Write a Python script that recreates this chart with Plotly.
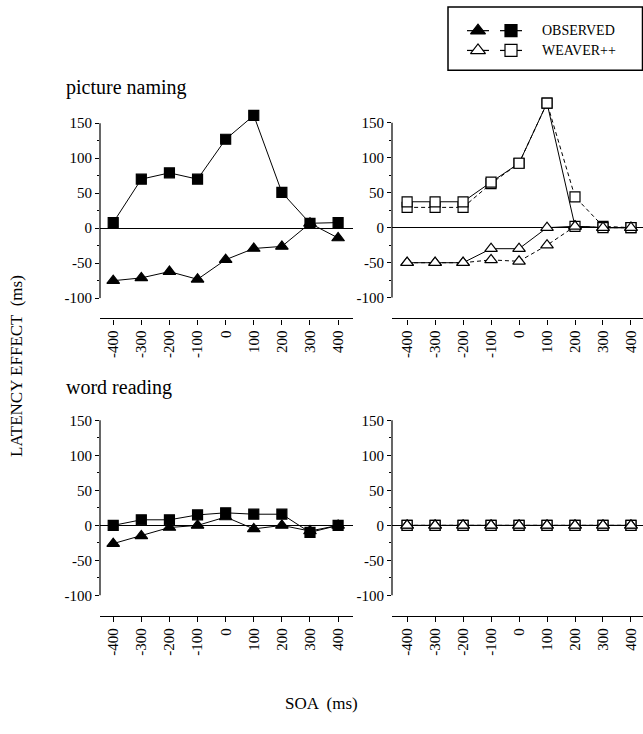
import plotly.graph_objects as go

W, H = 643, 734

soa = [-400, -300, -200, -100, 0, 100, 200, 300, 400]
soa_labels = ["-400", "-300", "-200", "-100", "0", "100", "200", "300", "400"]

# picture naming – observed
pn_obs_sq = [8, 70, 79, 70, 127, 161, 51, 7, 8]
pn_obs_tri = [-75, -71, -62, -73, -45, -29, -26, 7, -14]
# picture naming – WEAVER++ (two simulation curves: solid and dashed)
pn_sim_sq_solid = [37, 37, 37, 65, 92, 178, 2, 0, 0]
pn_sim_sq_dash = [29, 29, 29, 63, 92, 178, 44, 2, 0]
pn_sim_tri_solid = [-50, -50, -50, -30, -30, 0, 2, 0, 0]
pn_sim_tri_dash = [-50, -50, -50, -46, -48, -25, 2, 0, 0]

# word reading – observed
wr_obs_sq = [0, 8, 8, 15, 18, 16, 16, -10, 0]
wr_obs_tri = [-26, -15, -3, 0, 12, -5, 0, -8, 0]
# word reading – WEAVER++
wr_sim_sq_solid = [0, 0, 0, 0, 0, 0, 0, 0, 0]
wr_sim_sq_dash = [0, 0, 0, 0, 0, 0, 0, 0, 0]
wr_sim_tri_solid = [0, 0, 0, 0, 0, 0, 0, 0, 0]
wr_sim_tri_dash = [0, 0, 0, 0, 0, 0, 0, 0, 0]

y_ticks = [-100, -50, 0, 50, 100, 150]
y_tick_labels = ["-100", "-50", "0", "50", "100", "150"]
y_minor = [-75, -25, 25, 75, 125]

FONT = "Liberation Serif"

def px(x):
    return x / W

def py(y):
    return 1 - y / H

fig = go.Figure()

def add(xa, ya, yvals, symbol, filled, dash):
    fig.add_trace(go.Scatter(
        x=soa, y=yvals, xaxis=xa, yaxis=ya, mode="lines+markers",
        line=dict(color="black", width=1, dash=dash),
        marker=dict(symbol=symbol, size=10 if symbol == "square" else 11,
                    color="black" if filled else "white",
                    line=dict(color="black", width=1.2)),
        showlegend=False, cliponaxis=False, hoverinfo="skip"))

# top-left: observed picture naming
add("x", "y", pn_obs_sq, "square", True, "solid")
add("x", "y", pn_obs_tri, "triangle-up", True, "solid")
# top-right: WEAVER++
add("x2", "y2", pn_sim_sq_dash, "square", False, "4px,3px")
add("x2", "y2", pn_sim_tri_dash, "triangle-up", False, "4px,3px")
add("x2", "y2", pn_sim_sq_solid, "square", False, "solid")
add("x2", "y2", pn_sim_tri_solid, "triangle-up", False, "solid")
# bottom-left: observed word reading
add("x3", "y3", wr_obs_sq, "square", True, "solid")
add("x3", "y3", wr_obs_tri, "triangle-up", True, "solid")
# bottom-right: WEAVER++
add("x4", "y4", wr_sim_sq_dash, "square", False, "4px,3px")
add("x4", "y4", wr_sim_sq_solid, "square", False, "solid")
add("x4", "y4", wr_sim_tri_dash, "triangle-up", False, "4px,3px")
add("x4", "y4", wr_sim_tri_solid, "triangle-up", False, "solid")

pxu = 177 / 250.0  # pixels per ms
ytop_val = 190
layout = dict(
    width=W, height=H, margin=dict(l=0, r=0, t=0, b=0),
    paper_bgcolor="white", plot_bgcolor="rgba(0,0,0,0)",
    font=dict(family=FONT, color="black"),
)

panels = [
    # (suffix, xdom pixels, xrange, y150 pixel, xaxis line pixel)
    ("", (100, 353), (-447, 453), 124.5, 322),
    ("2", (392, 643), (-454, 443), 124.0, 322),
    ("3", (100, 353), (-447, 453), 425.0, 623),
    ("4", (392, 643), (-454, 443), 425.0, 623),
]
shapes = []
for suf, (x0, x1), xr, y150, xline in panels:
    ybot = y150 + 250 * pxu
    ytop = y150 - (ytop_val - 150) * pxu
    layout["xaxis" + suf] = dict(
        domain=[px(x0), px(x1)], range=list(xr), anchor="free",
        position=py(xline), showline=True, linecolor="black", linewidth=1.2,
        tickmode="array", tickvals=soa, ticktext=soa_labels, tickangle=-90,
        ticks="outside", ticklen=5, tickcolor="black", tickwidth=1.2,
        showgrid=False, zeroline=False, fixedrange=True,
        tickfont=dict(family=FONT, size=15, color="black"),
    )
    layout["yaxis" + suf] = dict(
        domain=[py(ybot), py(ytop)], range=[-100, ytop_val],
        anchor="x" + suf, showline=False,
        tickmode="array", tickvals=y_ticks, ticktext=y_tick_labels,
        ticks="outside", ticklen=4,
        tickcolor="black", tickwidth=1.2,
        minor=dict(tickvals=y_minor, ticks="outside", ticklen=2,
                   tickcolor="black", tickwidth=1),
        showgrid=False, zeroline=True, zerolinecolor="black", zerolinewidth=1.2,
        fixedrange=True, tickfont=dict(family=FONT, size=15, color="black"),
    )
    shapes.append(dict(type="line", xref="x" + suf + " domain", x0=0, x1=0,
                       yref="y" + suf, y0=-100, y1=150,
                       line=dict(color="black", width=1.2)))

# legend axes (pixel coordinates)
layout["xaxis5"] = dict(domain=[0, 1], range=[0, W], visible=False, fixedrange=True)
layout["yaxis5"] = dict(domain=[0, 1], range=[H, 0], visible=False, fixedrange=True,
                        anchor="x5")

leg_rows = [("OBSERVED", True, 31), ("WEAVER++", False, 51)]
for name, filled, ry in leg_rows:
    for sym, cx in (("triangle-up", 478), ("square", 511)):
        fig.add_trace(go.Scatter(
            x=[cx - 11, cx, cx + 11], y=[ry, ry, ry], xaxis="x5", yaxis="y5",
            mode="lines", line=dict(color="black", width=1.2),
            showlegend=False, hoverinfo="skip"))
        fig.add_trace(go.Scatter(
            x=[cx], y=[ry], xaxis="x5", yaxis="y5", mode="markers",
            marker=dict(symbol=sym, size=12 if sym == "square" else 13,
                        color="black" if filled else "white",
                        line=dict(color="black", width=1.2)),
            showlegend=False, hoverinfo="skip"))

shapes.append(dict(type="rect", xref="paper", yref="paper",
                   x0=px(448), x1=px(642.5), y0=py(71), y1=py(7),
                   line=dict(color="black", width=1.5)))

annotations = [
    dict(text=name, x=px(540), y=py(ry), xref="paper", yref="paper",
         xanchor="left", yanchor="middle", showarrow=False,
         font=dict(family=FONT, size=14, color="black"))
    for name, _, ry in leg_rows
]
annotations += [
    dict(text="picture naming", x=px(64), y=py(88), xref="paper", yref="paper",
         xanchor="left", yanchor="middle", showarrow=False,
         font=dict(family=FONT, size=20, color="black")),
    dict(text="word reading", x=px(64), y=py(392), xref="paper", yref="paper",
         xanchor="left", yanchor="middle", showarrow=False,
         font=dict(family=FONT, size=20, color="black")),
    dict(text="LATENCY EFFECT  (ms)", x=px(17), y=py(370), xref="paper", yref="paper",
         xanchor="center", yanchor="middle", textangle=-90, showarrow=False,
         font=dict(family=FONT, size=17, color="black")),
    dict(text="SOA  (ms)", x=px(321), y=py(711), xref="paper", yref="paper",
         xanchor="center", yanchor="middle", showarrow=False,
         font=dict(family=FONT, size=17, color="black")),
]

layout["shapes"] = shapes
layout["annotations"] = annotations
fig.update_layout(**layout)
fig.write_html("out.html")
